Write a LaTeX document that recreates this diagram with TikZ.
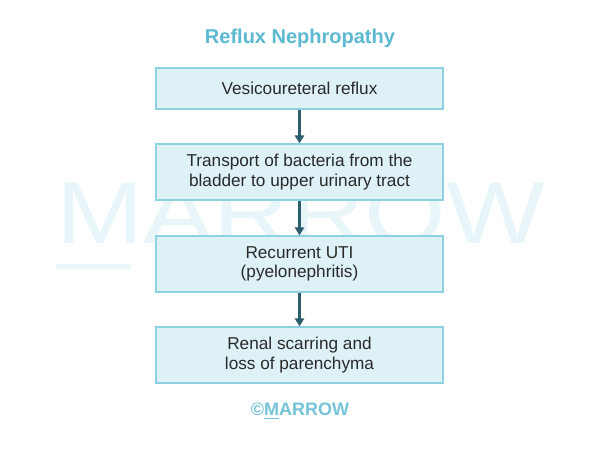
\documentclass[tikz,border=0pt]{standalone}
\usepackage{fontspec}
\setmainfont{Liberation Sans}
\usetikzlibrary{arrows.meta}
\definecolor{boxfill}{HTML}{DDF1F6}
\definecolor{boxdraw}{HTML}{8ED2E2}
\definecolor{arrowc}{HTML}{2E5E6C}
\definecolor{titlec}{HTML}{5CB9D2}
\definecolor{wmark}{HTML}{E8F6FA}
\definecolor{textc}{HTML}{2A2A2A}
\tikzset{
  stepbox/.style={draw=boxdraw, fill=boxfill, line width=1pt, minimum width=287*0.75pt, minimum height=41*0.75pt, align=center, font=\fontsize{12.9}{14.6}\selectfont, text=textc, inner sep=0pt},
  tallbox/.style={stepbox, minimum height=56*0.75pt},
  flow/.style={draw=arrowc, line width=1.6pt, -{Triangle[length=6pt,width=7pt]}}
}
\begin{document}
\begin{tikzpicture}[x=0.75pt,y=-0.75pt]
\useasboundingbox[fill=white] (0,0) rectangle (600,450);
% watermark
\node[text=wmark, font=\fontsize{66}{66}\selectfont, inner sep=0, anchor=base, xscale=1.19] (wm) at (301,243) {MARROW};
\fill[wmark] (56,264) rectangle (131,269);
\node[font=\bfseries\fontsize{15}{18}\selectfont, text=titlec] (title) at (300,38) {Reflux Nephropathy};
\node[stepbox] (b1) at (299.5,88.5) {Vesicoureteral reflux};
\node[tallbox] (b2) at (299.5,172) {Transport of bacteria from the\\bladder to upper urinary tract};
\node[tallbox] (b3) at (299.5,264) {Recurrent UTI\\(pyelonephritis)};
\node[tallbox] (b4) at (299.5,355) {Renal scarring and\\loss of parenchyma};
\draw[flow] (b1) -- (b2);
\draw[flow] (b2) -- (b3);
\draw[flow] (b3) -- (b4);
\node[font=\bfseries\fontsize{13.5}{15}\selectfont, text=titlec!85, inner sep=0] (cr) at (300,411) {©\underline{M}ARROW};
\end{tikzpicture}
\end{document}
